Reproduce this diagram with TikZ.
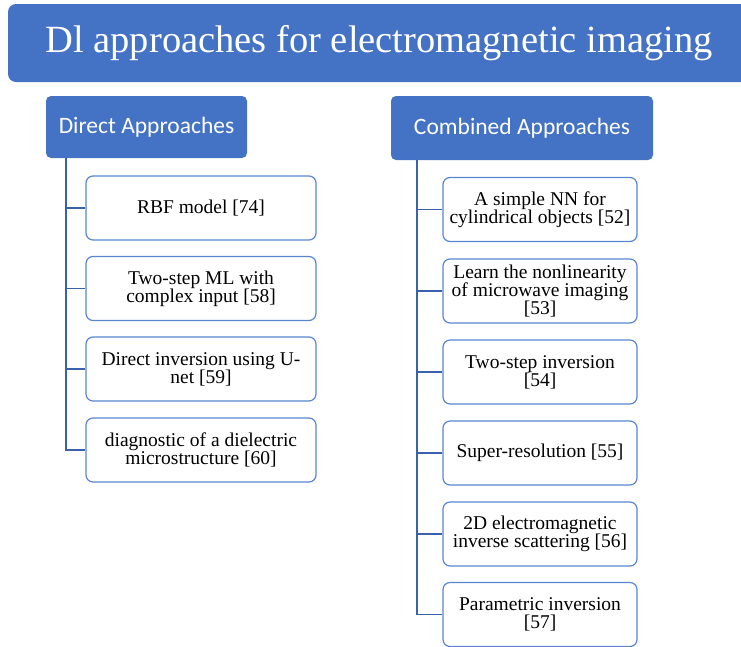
\documentclass[tikz,border=0pt]{standalone}
\usepackage{fontspec}
\setmainfont{Liberation Serif}
\newfontfamily\bodyfont{Liberation Serif}
\newfontfamily\headfont{Carlito}
\definecolor{hdrblue}{HTML}{4472C4}
\definecolor{linkblue}{HTML}{3A62AC}
\definecolor{edgeblue}{HTML}{5B86CF}
\begin{document}
\begin{tikzpicture}[x=1pt,y=-1pt,
  titlebox/.style={fill=hdrblue,draw=none,rounded corners=8pt,text=white,
    font=\bodyfont\fontsize{38.5}{40}\selectfont,inner sep=0pt},
  headbox/.style={fill=hdrblue,draw=none,rounded corners=5pt,text=white,
    font=\headfont\fontsize{23.5}{26}\selectfont,inner sep=0pt},
  leafbox/.style={fill=white,draw=edgeblue,line width=1.2pt,rounded corners=7pt,
    align=center,inner sep=0pt,font=\bodyfont\fontsize{19.5}{18.2}\selectfont},
  link/.style={draw=linkblue,line width=1.6pt}]
\clip (0,0) rectangle (741,646);

% title banner
\node[titlebox,minimum width=742pt,minimum height=78pt] (title) at (379,43)
  {Dl approaches for electromagnetic imaging};

% category headers
\node[headbox,minimum width=201pt,minimum height=62pt] (direct) at (146.5,127)
  {Direct Approaches};
\node[headbox,minimum width=262pt,minimum height=64pt] (combined) at (522,128)
  {Combined Approaches};

% direct approaches
\begin{scope}[every node/.style={leafbox,minimum width=230pt,minimum height=64pt}]
\node (d1) at (201,208)   {RBF model [74]};
\node (d2) at (201,288.5) {Two-step ML with\\complex input [58]};
\node (d3) at (201,369)   {Direct inversion using U-\\net [59]};
\node (d4) at (201,450)   {diagnostic of a dielectric\\microstructure [60]};
\end{scope}

% combined approaches
\begin{scope}[every node/.style={leafbox,minimum width=194pt,minimum height=64pt}]
\node (c1) at (540,209.5) {A simple NN for\\cylindrical objects [52]};
\node (c2) at (540,291)   {Learn the nonlinearity\\of microwave imaging\\{}[53]};
\node (c3) at (540,372)   {Two-step inversion\\{}[54]};
\node (c4) at (540,453)   {Super-resolution [55]};
\node (c5) at (540,534)   {2D electromagnetic\\inverse scattering [56]};
\node (c6) at (540,614.5) {Parametric inversion\\{}[57]};
\end{scope}

% tree connectors
\coordinate (dtop) at ([xshift=-80.5pt]direct.south);
\draw[link] (dtop) |- (d4.west);
\foreach \n in {d1,d2,d3} \draw[link] (dtop |- \n.west) -- (\n.west);

\coordinate (ctop) at ([xshift=-105pt]combined.south);
\draw[link] (ctop) |- (c6.west);
\foreach \n in {c1,c2,c3,c4,c5} \draw[link] (ctop |- \n.west) -- (\n.west);
\end{tikzpicture}
\end{document}
